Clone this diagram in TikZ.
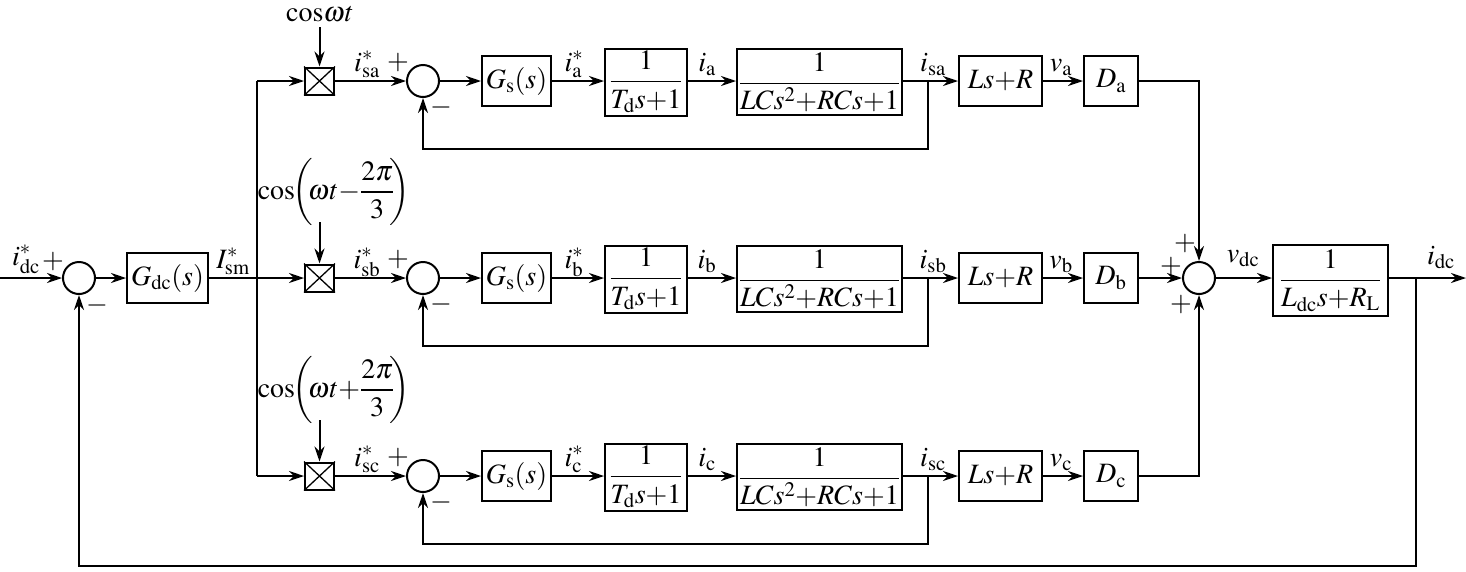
\documentclass[tikz,border=0pt]{standalone}
\usepackage{mathptmx}
\usetikzlibrary{arrows.meta}
\begin{document}
\begin{tikzpicture}[x=1pt,y=-1pt,line width=2pt,
  every node/.style={font=\fontsize{28}{32}\selectfont},
  blk/.style={draw,rectangle,inner sep=0pt},
  sumc/.style={draw,circle,minimum size=32pt,inner sep=0pt},
  mulx/.style={draw,rectangle,minimum width=29pt,minimum height=27pt,inner sep=0pt},
  arr/.style={-{Stealth[length=15pt,width=10pt,inset=5pt]}},
  lbl/.style={anchor=base,inner sep=0pt}]
\useasboundingbox (0,0) rectangle (1466,571);

% left part
\coordinate (in) at (0,278);
\node[sumc] (sum0) at (79,278) {};
\node[blk,minimum width=81pt,minimum height=50pt] (gdc) at (167.5,278) {$G_{\mathrm{dc}}(s)$};
\coordinate (bt) at (257,81);
\coordinate (bb) at (257,476);
\draw[arr] (in) -- (sum0.west);
\draw[arr] (sum0.east) -- (gdc.west);
\node[lbl] (l1) at (26,265) {$i^*_{\mathrm{dc}}$};
\node[lbl] (l2) at (53,268) {$+$};
\node[lbl] (l3) at (97,312) {$-$};
\node[lbl] (l4) at (233,268) {$I^*_{\mathrm{sm}}$};

% modulating signals
\node[lbl] (cosa) at (320,21) {$\cos\!\omega t$};
\node (cosb) at (334,192) {$\cos\mkern-4mu\left(\mkern-3mu\omega t{-}\displaystyle\frac{2\pi}{3}\mkern-3mu\right)$};
\node (cosc) at (334,390) {$\cos\mkern-4mu\left(\mkern-3mu\omega t{+}\displaystyle\frac{2\pi}{3}\mkern-3mu\right)$};
\coordinate (ca) at (319.5,27);
\coordinate (cb) at (319.5,222);
\coordinate (cc) at (319.5,420);

% three phase rows
\foreach \r/\y in {a/81,b/278,c/476} {
  \node[mulx] (mul\r) at (319.5,\y) {};
  \draw[line width=1.3pt] (mul\r.north west) -- (mul\r.south east)
                          (mul\r.north east) -- (mul\r.south west);
  \node[sumc] (sum\r) at (423,\y) {};
  \node[blk,minimum width=69pt,minimum height=50pt] (gs\r) at (516.5,\y) {$G_{\mathrm{s}}(s)$};
  \node[blk,minimum width=82pt,minimum height=67pt] (td\r) at (646,\y+1) {$\displaystyle\frac{1}{T_{\mathrm{d}}s{+}1}$};
  \node[blk,minimum width=165pt,minimum height=66pt] (lc\r) at (819.5,\y+1) {$\displaystyle\frac{1}{LCs^2{+}RCs{+}1}$};
  \node[blk,minimum width=83pt,minimum height=50pt] (ls\r) at (1000.5,\y) {$Ls{+}R$};
  \node[blk,minimum width=54pt,minimum height=50pt] (d\r) at (1111,\y) {$D_{\mathrm{\r}}$};
  \coordinate (br\r) at (928,\y);
  \coordinate (fb\r) at (928,\y+68);
  \draw[arr] (mul\r.east) -- (sum\r.west);
  \draw[arr] (sum\r.east) -- (gs\r.west);
  \draw[arr] (gs\r.east) -- (td\r.west |- gs\r.east);
  \draw[arr] (td\r.east |- gs\r.east) -- (lc\r.west |- gs\r.east);
  \draw[arr] (lc\r.east |- gs\r.east) -- (ls\r.west);
  \draw[arr] (ls\r.east) -- (d\r.west);
  \draw[arr] (br\r) -- (fb\r) -| (sum\r.south);
  \node[lbl] at (367,\y-10) {$i^*_{\mathrm{s\r}}$};
  \node[lbl] at (398,\y-12) {$+$};
  \node[lbl] at (441,\y+33) {$-$};
  \node[lbl] at (574,\y-10) {$i^*_{\mathrm{\r}}$};
  \node[lbl] at (707,\y-10) {$i_{\mathrm{\r}}$};
  \node[lbl] at (933,\y-10) {$i_{\mathrm{s\r}}$};
  \node[lbl] at (1061,\y-10) {$v_{\mathrm{\r}}$};
}

\draw (bt) -- (bb);
\draw[arr] (bt) -- (mula.west);
\draw[arr] (gdc.east) -- (mulb.west);
\draw[arr] (bb) -- (mulc.west);
\draw[arr] (ca) -- (mula.north);
\draw[arr] (cb) -- (mulb.north);
\draw[arr] (cc) -- (mulc.north);

% right part
\node[sumc] (sumd) at (1199,278) {};
\node[blk,minimum width=115pt,minimum height=71pt] (ldc) at (1330.5,280.5) {$\displaystyle\frac{1}{L_{\mathrm{dc}}s{+}R_{\mathrm{L}}}$};
\coordinate (out) at (1466,278);
\coordinate (obr) at (1416,278);
\coordinate (ofb) at (1416,566);
\draw[arr] (da.east) -| (sumd.north);
\draw[arr] (db.east) -- (sumd.west);
\draw[arr] (dc.east) -| (sumd.south);
\draw[arr] (sumd.east) -- (ldc.west |- sumd.east);
\draw[arr] (ldc.east |- sumd.east) -- (out);
\draw[arr] (obr) -- (ofb) -| (sum0.south);
\node[lbl] (p1) at (1185,250) {$+$};
\node[lbl] (p2) at (1171,273) {$+$};
\node[lbl] (p3) at (1181,311) {$+$};
\node[lbl] (l5) at (1243,262) {$v_{\mathrm{dc}}$};
\node[lbl] (l6) at (1441,264) {$i_{\mathrm{dc}}$};
\end{tikzpicture}
\end{document}
